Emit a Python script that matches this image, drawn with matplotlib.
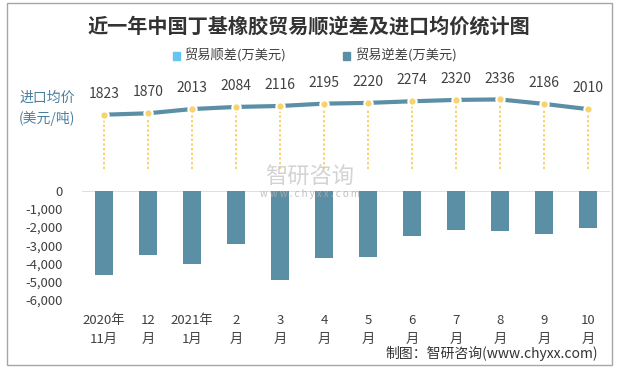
import matplotlib.pyplot as plt
from matplotlib.patches import Rectangle

plt.rcParams['font.family'] = ['Noto Sans CJK SC', 'DejaVu Sans']

months = ['2020年\n11月', '12\n月', '2021年\n1月', '2\n月', '3\n月', '4\n月',
          '5\n月', '6\n月', '7\n月', '8\n月', '9\n月', '10\n月']
trade_deficit = [-4630, -3530, -4030, -2930, -4910, -3700,
                 -3640, -2490, -2160, -2210, -2380, -2050]
import_price = [1823, 1870, 2013, 2084, 2116, 2195, 2220, 2274, 2320, 2336, 2186, 2010]

W, H = 618, 368
bar_color = '#5b8fa6'
dot_color = '#f7d36e'
text_color = '#404040'

fig = plt.figure(figsize=(W / 100, H / 100), dpi=100)
fig.add_artist(Rectangle((7 / W, 1 - 365 / H), 605 / W, 362 / H, transform=fig.transFigure,
                         fill=False, edgecolor='#a6a6a6', linewidth=1))

x = list(range(len(months)))
left, width = 82 / W, 528 / W

# bars: trade deficit
ax = fig.add_axes([left, 1 - 300 / H, width, 109.3 / H])
ax.bar(x, trade_deficit, width=0.41, color=bar_color)
ax.axhline(0, color='#d9d9d9', linewidth=1.2, zorder=0)
ax.set_xlim(-0.5, 11.5)
ax.set_ylim(-6000, 0)
ax.set_yticks(range(-6000, 1, 1000))
ax.set_yticklabels([f'{v:,}' for v in range(-6000, 1, 1000)])
ax.set_xticks(x)
ax.set_xticklabels(months, linespacing=1.6)
ax.tick_params(length=0, labelsize=9.5, labelcolor=text_color)
ax.tick_params(axis='x', pad=10)
ax.tick_params(axis='y', pad=14)
for s in ax.spines.values():
    s.set_visible(False)

# line: import average price
ax2 = fig.add_axes([left, 1 - 169 / H, width, 109 / H])
ax2.set_xlim(-0.5, 11.5)
ax2.set_ylim(0, 3660)
ax2.vlines(x, 0, import_price, colors=dot_color, linestyles=(0, (1.2, 1.2)), linewidth=1.4)
ax2.plot(x, import_price, color=bar_color, linewidth=3, marker='o', markersize=6,
         markerfacecolor=dot_color, markeredgecolor='white', markeredgewidth=1.5)
for xi, v in zip(x, import_price):
    ax2.annotate(str(v), (xi, v), xytext=(0, 10), textcoords='offset points',
                 ha='center', va='bottom', fontsize=10, color=text_color)
ax2.axis('off')

# texts
fig.text(309 / W, 1 - 26 / H, '近一年中国丁基橡胶贸易顺逆差及进口均价统计图', ha='center', va='center',
         fontsize=14.5, fontweight='bold', color='#333333')
fig.add_artist(Rectangle((173 / W, 1 - 59.5 / H), 7 / W, 7 / H, transform=fig.transFigure, color='#63c5f0'))
fig.text(184 / W, 1 - 56 / H, '贸易顺差(万美元)', va='center', fontsize=9.5, color=text_color)
fig.add_artist(Rectangle((343 / W, 1 - 59.5 / H), 7 / W, 7 / H, transform=fig.transFigure, color=bar_color))
fig.text(355 / W, 1 - 56 / H, '贸易逆差(万美元)', va='center', fontsize=9.5, color=text_color)
fig.text(19 / W, 1 - 108 / H, '进口均价\n(美元/吨)', ha='left', va='center', fontsize=10,
         color='#4a7fa0', linespacing=1.5)
fig.text(310 / W, 1 - 177 / H, '智研咨询', ha='center', va='center', fontsize=16,
         color='#c8c8c8', alpha=0.8)
fig.text(310 / W, 1 - 194 / H, 'w w w . c h y x x . c o m', ha='center', va='center', fontsize=7,
         color='#b0b0b0', alpha=0.8)
fig.text(598 / W, 1 - 353 / H, '制图：智研咨询(www.chyxx.com)', ha='right', va='center',
         fontsize=10, color='#333333')

fig.savefig('out.png', dpi=100)
